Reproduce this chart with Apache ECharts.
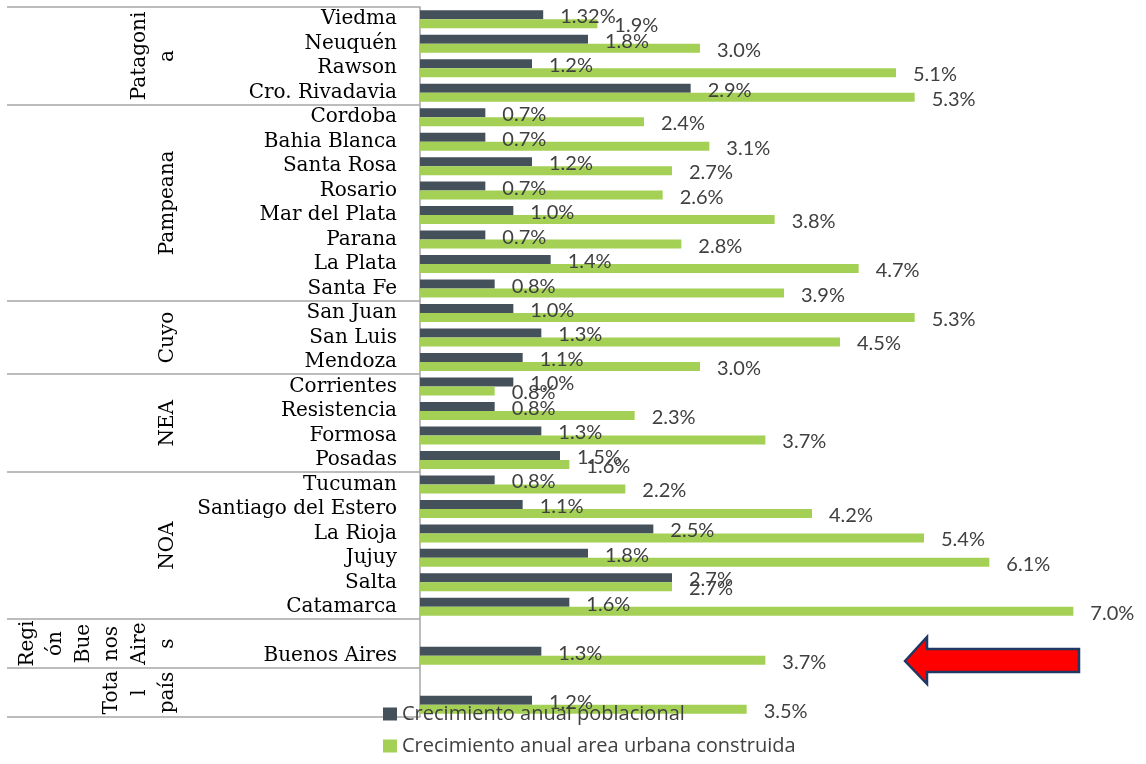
<!DOCTYPE html>
<html>
<head>
<meta charset="utf-8">
<title>Crecimiento anual</title>
<script src="https://cdn.jsdelivr.net/npm/echarts@6/dist/echarts.min.js"></script>
<style>
  html, body { margin: 0; padding: 0; background: #fff; }
  #chart { width: 1146px; height: 764px; }
</style>
</head>
<body>
<div id="chart"></div>
<script>
// rows top to bottom, blank rows are spacer rows of the two-row groups
var cities = ['Viedma', 'Neuquén', 'Rawson', 'Cro. Rivadavia',
  'Cordoba', 'Bahia Blanca', 'Santa Rosa', 'Rosario', 'Mar del Plata', 'Parana', 'La Plata', 'Santa Fe',
  'San Juan', 'San Luis', 'Mendoza',
  'Corrientes', 'Resistencia', 'Formosa', 'Posadas',
  'Tucuman', 'Santiago del Estero', 'La Rioja', 'Jujuy', 'Salta', 'Catamarca',
  ' ', 'Buenos Aires',
  '  ', '   '];

var poblacional = [1.32, 1.8, 1.2, 2.9,
  0.7, 0.7, 1.2, 0.7, 1.0, 0.7, 1.4, 0.8,
  1.0, 1.3, 1.1,
  1.0, 0.8, 1.3, 1.5,
  0.8, 1.1, 2.5, 1.8, 2.7, 1.6,
  null, 1.3,
  null, 1.2];

var areaUrbana = [1.9, 3.0, 5.1, 5.3,
  2.4, 3.1, 2.7, 2.6, 3.8, 2.8, 4.7, 3.9,
  5.3, 4.5, 3.0,
  0.8, 2.3, 3.7, 1.6,
  2.2, 4.2, 5.4, 6.1, 2.7, 7.0,
  null, 3.7,
  null, 3.5];

// region groups (text wrapped as in the original narrow cells)
var regionLabels = ['Patagoni\na', 'Pampeana', 'Cuyo', 'NEA', 'NOA',
  'Regi\nón\nBue\nnos\nAire\ns', 'Tota\nl\npaís'];
var regionSizes = [4, 8, 3, 4, 6, 2, 2];

var seriesNames = ['Crecimiento anual poblacional', 'Crecimiento anual area urbana construida'];

// group boundaries and centers in row units
var bounds = [0];
var centers = [];
regionSizes.forEach(function (n, i) {
  centers.push(bounds[i] + n / 2);
  bounds.push(bounds[i] + n);
});

function pct(v) {
  return (Math.round(v * 100) % 10 === 0 ? v.toFixed(1) : v.toFixed(2)) + '%';
}

var labelStyle = {
  show: true,
  position: 'right',
  distance: 17,
  offset: [0, 2],
  color: '#404040',
  fontFamily: 'Lato',
  fontSize: 20,
  formatter: function (p) { return pct(p.value); }
};

var chart = echarts.init(document.getElementById('chart'));
chart.setOption({
  animation: false,
  grid: { left: 420, top: 7, bottom: 47, width: 700 },
  legend: {
    orient: 'vertical',
    left: 383,
    top: 704,
    padding: 0,
    icon: 'rect',
    itemWidth: 14,
    itemHeight: 13,
    itemGap: 12,
    textStyle: { fontFamily: 'Open Sans', fontSize: 20, color: '#404040' },
    data: seriesNames
  },
  xAxis: {
    type: 'value',
    min: 0,
    max: 7.5,
    show: false
  },
  yAxis: [
    {
      type: 'category',
      inverse: true,
      data: cities,
      axisLine: { show: true, lineStyle: { color: '#a6a6a6', width: 1.5 } },
      axisTick: { show: false },
      axisLabel: { interval: 0, color: '#000', fontFamily: 'DejaVu Serif', fontSize: 20, margin: 23 }
    },
    {
      // second level of the axis: regions
      type: 'value',
      position: 'left',
      inverse: true,
      min: 0,
      max: bounds[bounds.length - 1],
      axisLine: { show: false },
      splitLine: { show: false },
      axisTick: {
        show: true,
        customValues: bounds,
        length: 413,
        lineStyle: { color: '#a6a6a6', width: 1.5 }
      },
      axisLabel: {
        customValues: centers,
        rotate: 90,
        margin: 238,
        align: 'center',
        verticalAlign: 'bottom',
        lineHeight: 28,
        color: '#000',
        fontFamily: 'DejaVu Serif',
        fontSize: 20,
        formatter: function (v) {
          var i = centers.indexOf(v);
          return i >= 0 ? regionLabels[i] : '';
        }
      }
    }
  ],
  series: [
    {
      name: seriesNames[0],
      type: 'bar',
      barWidth: 9,
      barGap: '0%',
      itemStyle: { color: '#44505a' },
      label: labelStyle,
      data: poblacional
    },
    {
      name: seriesNames[1],
      type: 'bar',
      barWidth: 9,
      barGap: '0%',
      itemStyle: { color: '#a3d055' },
      label: labelStyle,
      data: areaUrbana
    }
  ],
  graphic: [
    {
      // red arrow pointing at Buenos Aires
      type: 'polygon',
      z: 100,
      shape: {
        points: [[905, 661], [927, 637], [927, 649], [1079, 649], [1079, 672], [927, 672], [927, 684]]
      },
      style: { fill: '#ff0000', stroke: '#1f3864', lineWidth: 2.5 }
    }
  ]
});
</script>
</body>
</html>
